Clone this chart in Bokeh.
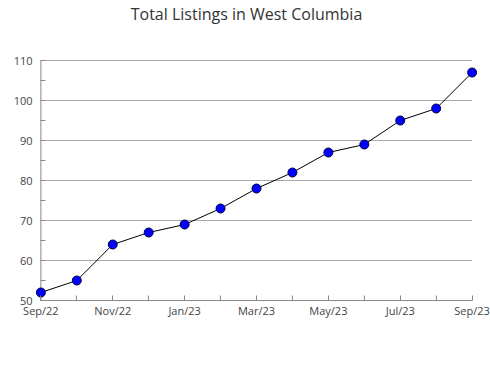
from bokeh.plotting import figure
from bokeh.models import Range1d, FixedTicker, Label
from bokeh.embed import file_html
from bokeh.resources import INLINE

title = "Total Listings in West Columbia"
months = ["Sep/22", "Oct/22", "Nov/22", "Dec/22", "Jan/23", "Feb/23", "Mar/23",
          "Apr/23", "May/23", "Jun/23", "Jul/23", "Aug/23", "Sep/23"]
listings = [52, 55, 64, 67, 69, 73, 78, 82, 87, 89, 95, 98, 107]
y_ticks = [50, 60, 70, 80, 90, 100, 110]
y_minor = [55, 65, 75, 85, 95, 105]

xs = list(range(len(months)))
FONT = "Open Sans"
PAD = 0.15          # small horizontal pad so edge markers are not clipped
Y_TOP = 124.25      # frame extends upward to hold the title (4 px per unit)

p = figure(width=490, height=380, output_backend="svg", toolbar_location=None,
           x_range=Range1d(xs[0] - PAD, xs[-1] + PAD), y_range=Range1d(y_ticks[0], Y_TOP),
           min_border_left=35, min_border_right=13, min_border_top=3, min_border_bottom=80)
p.outline_line_color = None

# chart title, floated above the top gridline
p.add_layout(Label(x=(xs[0] + xs[-1]) / 2, y=y_ticks[-1], x_offset=-10, y_offset=47,
                   text=title, text_align="center", text_baseline="middle", text_font=FONT,
                   text_font_size="16px", text_color="#333333"))

p.xgrid.grid_line_color = None
p.ygrid.grid_line_color = None

# horizontal gridlines spanning only the data extent
p.segment(x0=[xs[0]] * len(y_ticks), x1=[xs[-1]] * len(y_ticks), y0=y_ticks, y1=y_ticks,
          line_color="#aaaaaa", line_width=1)
# y axis line at the first month
p.segment(x0=[xs[0]], x1=[xs[0]], y0=[y_ticks[0]], y1=[y_ticks[-1]],
          line_color="#888888", line_width=1)

p.xaxis.ticker = FixedTicker(ticks=xs)
p.xaxis.major_label_overrides = {i: (m if i % 2 == 0 else "") for i, m in enumerate(months)}
p.xaxis.bounds = (xs[0], xs[-1])
p.yaxis.ticker = FixedTicker(ticks=y_ticks, minor_ticks=y_minor)

for ax in (p.xaxis[0], p.yaxis[0]):
    ax.axis_line_color = "#888888"
    ax.major_tick_line_color = "#888888"
    ax.minor_tick_line_color = "#888888"
    ax.major_tick_in = 5
    ax.major_tick_out = 0
    ax.minor_tick_in = 5
    ax.minor_tick_out = 0
    ax.major_label_text_font = FONT
    ax.major_label_text_font_size = "11px"
    ax.major_label_text_color = "#444444"
p.xaxis.major_label_standoff = 2

# y axis sits at the frame edge; shift its ticks to line up with x = first month
p.yaxis.axis_line_color = None
p.yaxis.major_tick_out = -5
p.yaxis.major_tick_in = 10
p.yaxis.minor_tick_out = -5
p.yaxis.minor_tick_in = 10
p.yaxis.major_label_standoff = 8

p.line(xs, listings, line_color="black", line_width=1)
p.scatter(xs, listings, size=9, fill_color="#0000ff", line_color="#000044", line_width=1)

open("out.html", "w").write(file_html(p, INLINE))
